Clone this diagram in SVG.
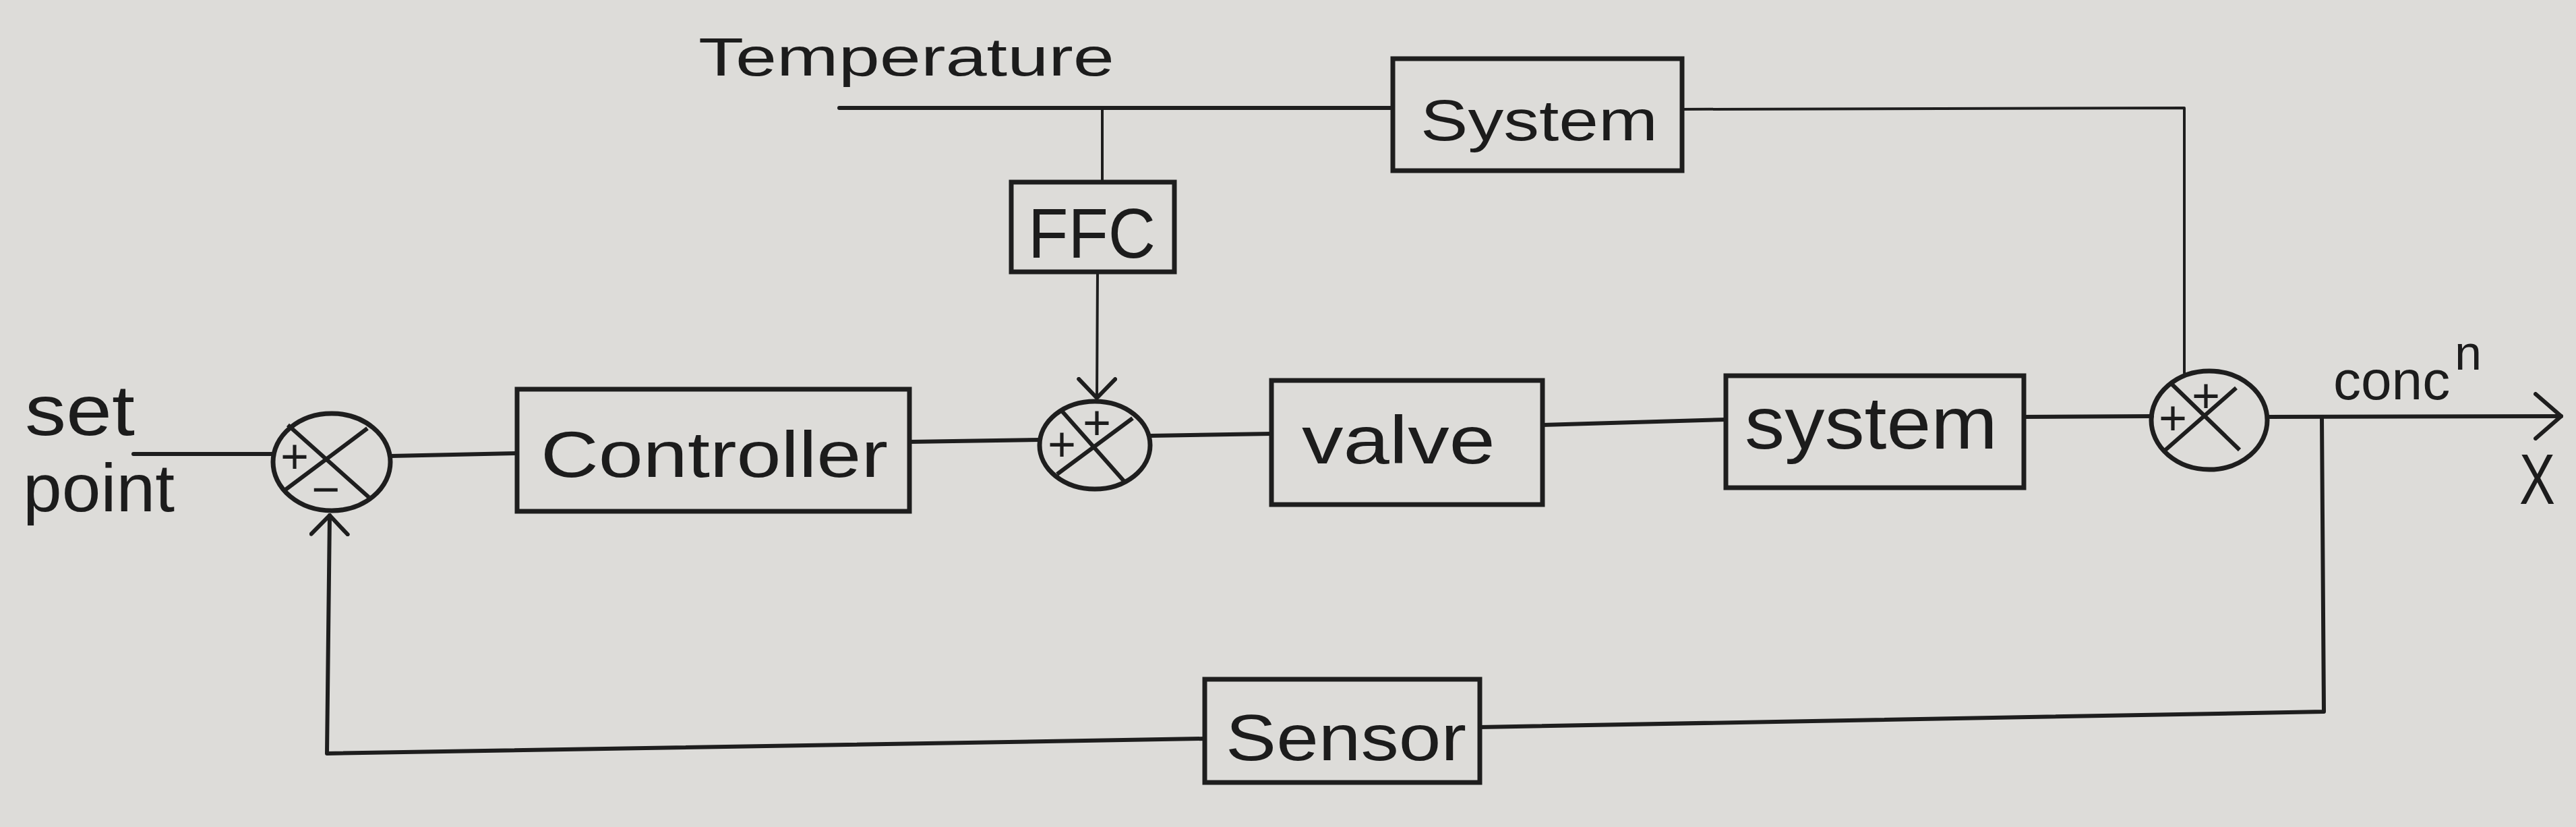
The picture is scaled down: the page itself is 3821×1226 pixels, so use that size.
<svg xmlns="http://www.w3.org/2000/svg" width="3821" height="1226" viewBox="0 0 3821 1226">
<style>
.bg{fill:#dddcd9}
.box{fill:none;stroke:#1e1e1e;stroke-width:7}
.sum{fill:none;stroke:#1e1e1e;stroke-width:7}
.x{stroke:#1e1e1e;stroke-width:6;fill:none}
.ln{fill:none;stroke:#1e1e1e;stroke-width:6;stroke-linecap:round;stroke-linejoin:round}
.t{font-family:"Liberation Sans","DejaVu Sans",sans-serif;fill:#1c1c1c}
.sg{font-family:"Liberation Sans","DejaVu Sans",sans-serif;fill:#1c1c1c;font-size:72px;text-anchor:middle}
</style>
<defs>
<marker id="big" viewBox="0 0 44 72" refX="41" refY="36" markerWidth="44" markerHeight="72" markerUnits="userSpaceOnUse" orient="auto">
<path d="M3,3 L41,36 L3,69" fill="none" stroke="#1e1e1e" stroke-width="6" stroke-linecap="round" stroke-linejoin="round"/>
</marker>
<marker id="small" viewBox="0 0 34 60" refX="31" refY="30" markerWidth="34" markerHeight="60" markerUnits="userSpaceOnUse" orient="auto">
<path d="M3,3 L31,30 L3,57" fill="none" stroke="#1e1e1e" stroke-width="6" stroke-linecap="round" stroke-linejoin="round"/>
</marker>
</defs>
<rect class="bg" x="0" y="0" width="3821" height="1226"/>

<g id="connectors">
<path class="ln" d="M198,673 L405,673"/>
<path class="ln" d="M580,676 L767,672"/>
<path class="ln" d="M1349,655 L1542,652"/>
<path class="ln" d="M1706,646 L1886,643"/>
<path class="ln" d="M2288,630 L2560,622"/>
<path class="ln" d="M3002,618 L3192,617"/>
<path class="ln" d="M3363,618 L3799,617" marker-end="url(#big)"/>
<path class="ln" d="M3444,619 L3447,1055 L2195,1078"/>
<path class="ln" d="M1787,1095 L485,1117 L489,764" marker-end="url(#small)"/>
<path class="ln" d="M1245,160 L2066,160"/>
<path class="ln" style="stroke-width:4" d="M1635,160 L1635,270"/>
<path class="ln" style="stroke-width:4" d="M1628,403 L1627,590" marker-end="url(#small)"/>
<path class="ln" style="stroke-width:4" d="M2495,162 L3240,160 L3240,553"/>
</g>

<g id="label-setpoint">
<text class="t" x="37" y="645" font-size="105" textLength="163" lengthAdjust="spacingAndGlyphs">set</text>
<text class="t" x="34" y="758" font-size="100" textLength="225" lengthAdjust="spacingAndGlyphs">point</text>
</g>

<g id="sum1">
<ellipse class="sum" cx="492" cy="685" rx="87" ry="72"/>
<line class="x" x1="427" y1="630" x2="547" y2="737"/>
<line class="x" x1="545" y1="635" x2="422" y2="727"/>
<text class="sg" x="437" y="701">+</text>
<text class="sg" x="483" y="750">−</text>
</g>

<g id="controller">
<rect class="box" x="767" y="577" width="582" height="181"/>
<text class="t" x="802" y="707" font-size="97" textLength="515" lengthAdjust="spacingAndGlyphs">Controller</text>
</g>

<g id="label-temperature">
<text class="t" x="1036" y="112" font-size="80" textLength="617" lengthAdjust="spacingAndGlyphs">Temperature</text>
</g>

<g id="ffc">
<rect class="box" x="1500" y="270" width="242" height="133"/>
<text class="t" x="1525" y="382" font-size="103" textLength="189" lengthAdjust="spacingAndGlyphs">FFC</text>
</g>

<g id="sum2">
<ellipse class="sum" cx="1624" cy="660" rx="82" ry="65"/>
<line class="x" x1="1573" y1="607" x2="1667" y2="713"/>
<line class="x" x1="1680" y1="620" x2="1568" y2="703"/>
<text class="sg" x="1627" y="651">+</text>
<text class="sg" x="1575" y="683">+</text>
</g>

<g id="valve">
<rect class="box" x="1886" y="564" width="402" height="184"/>
<text class="t" x="1931" y="687" font-size="100" textLength="287" lengthAdjust="spacingAndGlyphs">valve</text>
</g>

<g id="system-top">
<rect class="box" x="2066" y="87" width="429" height="166"/>
<text class="t" x="2107" y="208" font-size="86" textLength="352" lengthAdjust="spacingAndGlyphs">System</text>
</g>

<g id="system-main">
<rect class="box" x="2560" y="557" width="442" height="166"/>
<text class="t" x="2588" y="665" font-size="110" textLength="375" lengthAdjust="spacingAndGlyphs">system</text>
</g>

<g id="sum3">
<ellipse class="sum" cx="3277" cy="623" rx="86" ry="73"/>
<line class="x" x1="3222" y1="570" x2="3322" y2="667"/>
<line class="x" x1="3317" y1="575" x2="3212" y2="667"/>
<text class="sg" x="3272" y="611">+</text>
<text class="sg" x="3223" y="644">+</text>
</g>

<g id="label-output">
<text class="t" x="3461" y="592" font-size="82">conc<tspan x="3641" y="548" font-size="72">n</tspan></text>
<text class="t" x="3737" y="747" font-size="105" textLength="53" lengthAdjust="spacingAndGlyphs">X</text>
</g>

<g id="sensor">
<rect class="box" x="1787" y="1007" width="408" height="153"/>
<text class="t" x="1818" y="1127" font-size="97" textLength="357" lengthAdjust="spacingAndGlyphs">Sensor</text>
</g>
</svg>
